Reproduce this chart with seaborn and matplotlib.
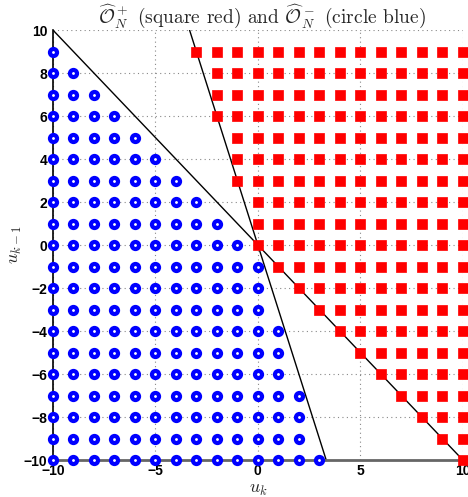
import numpy as np
import pandas as pd
import matplotlib
matplotlib.use("Agg")
import matplotlib.pyplot as plt
import seaborn as sns

# Row values (u_{k-1}) and read extents of each marker set per row
rows = [9, 8, 7, 6, 5, 4, 3, 2, 1, 0, -1, -2, -3, -4, -5, -6, -7, -8, -9, -10]
blue_max_x = [-10, -9, -8, -7, -6, -5, -4, -3, -2, -1, 0, 0, 0, 1, 1, 1, 2, 2, 2, 3]
red_min_x = [-3, -2, -2, -2, -1, -1, -1, 0, 0, 0, 1, 2, 3, 4, 5, 6, 7, 8, 9, 10]
x_min, x_max = -10, 10

# Boundary lines
line1_x = [-10, 10]
line1_y = [10, -10]
line2_x = [-10 / 3, 10 / 3]
line2_y = [10, -10]

xticks = [-10, -5, 0, 5, 10]
yticks = [-10, -8, -6, -4, -2, 0, 2, 4, 6, 8, 10]

blue_pts = [(x, y) for y, m in zip(rows, blue_max_x) for x in range(x_min, m + 1)]
red_pts = [(x, y) for y, m in zip(rows, red_min_x) for x in range(m, x_max + 1)]
blue_df = pd.DataFrame(blue_pts, columns=["uk", "uk1"])
red_df = pd.DataFrame(red_pts, columns=["uk", "uk1"])

sns.set_style("white")
plt.rcParams["mathtext.fontset"] = "cm"
plt.rcParams["axes.unicode_minus"] = False

fig = plt.figure(figsize=(4.68, 4.97), dpi=100)
ax = fig.add_axes([0.113, 0.0744, 0.876, 0.8652])

ax.grid(True, linestyle=(0, (1, 3)), color="#888888", linewidth=0.8)
ax.set_axisbelow(True)

ax.plot(line1_x, line1_y, color="black", linewidth=1.0, zorder=2)
ax.plot(line2_x, line2_y, color="black", linewidth=1.0, zorder=2)

sns.scatterplot(data=blue_df, x="uk", y="uk1", ax=ax, marker="o", s=26,
                facecolor="white", edgecolor="#0000ff", linewidth=3.0,
                zorder=3, clip_on=False)
sns.scatterplot(data=red_df, x="uk", y="uk1", ax=ax, marker="s", s=44,
                color="#ff0000", edgecolor="#ff0000", linewidth=0.5,
                zorder=3, clip_on=False)

ax.set_xlim(-10, 10)
ax.set_ylim(-10, 10)
ax.set_xticks(xticks)
ax.set_yticks(yticks)
ax.set_xticklabels([str(t).replace("-", "\u2212") for t in xticks],
                   fontfamily="Liberation Sans", fontweight="bold", fontsize=10)
ax.set_yticklabels([str(t).replace("-", "\u2212") for t in yticks],
                   fontfamily="Liberation Sans", fontweight="bold", fontsize=10)
ax.tick_params(axis="y", direction="in", length=3, pad=4, colors="black")
ax.tick_params(axis="x", direction="in", length=3, pad=3, colors="black")

for s in ["top", "right"]:
    ax.spines[s].set_visible(False)
ax.spines["left"].set_color("black")
ax.spines["left"].set_linewidth(1.2)
ax.spines["bottom"].set_color("#666666")
ax.spines["bottom"].set_linewidth(2.0)

ax.set_xlabel(r"$u_k$", fontsize=13, labelpad=1)
ax.set_ylabel(r"$u_{k-1}$", fontsize=13, labelpad=0)
ax.set_title(r"$\widehat{\mathcal{O}}_N^+$ (square red) and $\widehat{\mathcal{O}}_N^-$ (circle blue)",
             fontsize=14, family="cmr10", pad=5, x=0.51)

fig.savefig("out.png", dpi=100)
